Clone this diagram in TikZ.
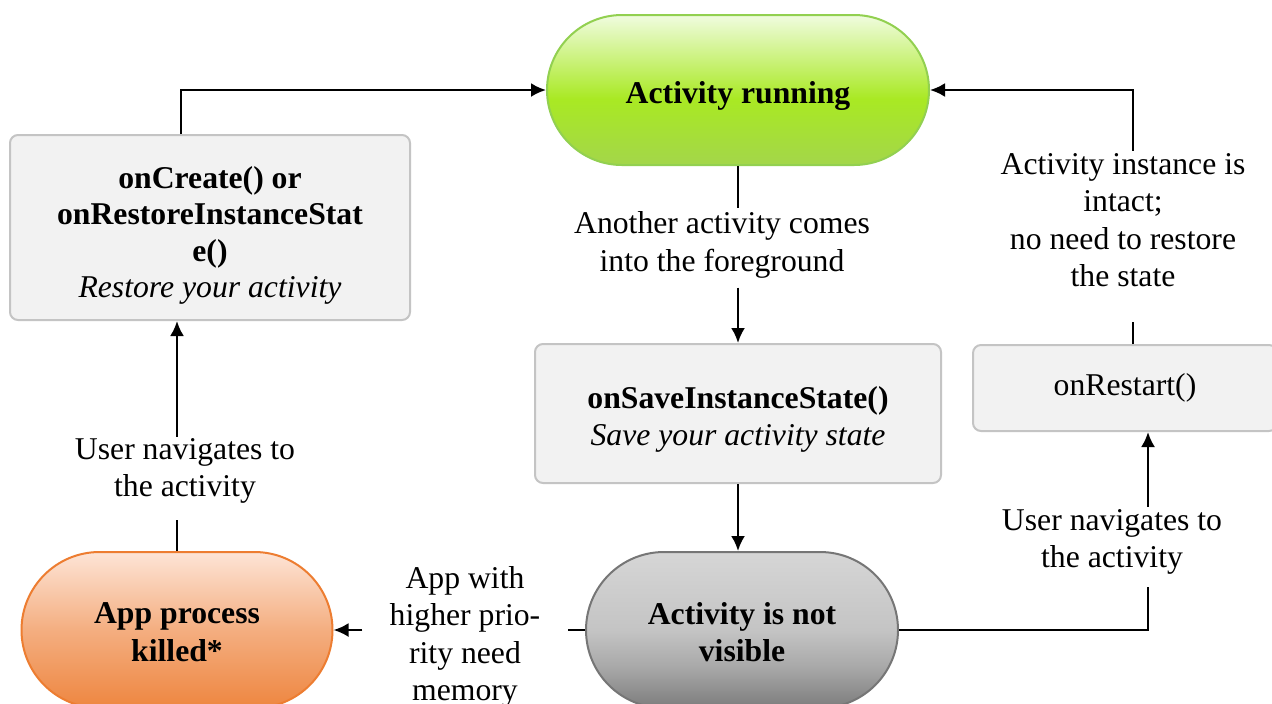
\documentclass[tikz,border=0pt]{standalone}
\usepackage{fontspec}
\setmainfont{Liberation Serif}
\usetikzlibrary{arrows.meta}

\definecolor{runTop}{HTML}{F0FCDF}
\definecolor{runMid}{HTML}{A9E923}
\definecolor{runBot}{HTML}{A3D64A}
\definecolor{runLine}{HTML}{92D050}
\definecolor{killTop}{HTML}{FDE4D6}
\definecolor{killMid}{HTML}{F4AE80}
\definecolor{killBot}{HTML}{EE8640}
\definecolor{killLine}{HTML}{ED7D31}
\definecolor{hidTop}{HTML}{D6D6D6}
\definecolor{hidMid}{HTML}{C4C4C4}
\definecolor{hidLow}{HTML}{A8A8A8}
\definecolor{hidBot}{HTML}{7C7C7C}
\definecolor{hidLine}{HTML}{767676}
\definecolor{boxFill}{HTML}{F2F2F2}
\definecolor{boxLine}{HTML}{C4C4C4}

% vertical shadings (0bp = bottom, 100bp = top; the path spans 25bp..75bp)
\pgfdeclareverticalshading{runshade}{100bp}{color(0bp)=(runBot); color(25bp)=(runBot); color(47bp)=(runMid); color(75bp)=(runTop); color(100bp)=(runTop)}
\pgfdeclareverticalshading{killshade}{100bp}{color(0bp)=(killBot); color(25bp)=(killBot); color(50bp)=(killMid); color(75bp)=(killTop); color(100bp)=(killTop)}
\pgfdeclareverticalshading{hidshade}{100bp}{color(0bp)=(hidBot); color(25bp)=(hidBot); color(38bp)=(hidLow); color(50bp)=(hidMid); color(75bp)=(hidTop); color(100bp)=(hidTop)}

\tikzset{
  txt/.style={font=\fontsize{15.85}{18.75}\selectfont, align=center, inner sep=0pt},
  boldtxt/.style={txt, font=\fontsize{15.85}{18.75}\selectfont\bfseries},
  state/.style={line width=1pt, minimum height=78pt, inner sep=0pt},
  callbox/.style={draw=boxLine, fill=boxFill, line width=1pt, rounded corners=4pt, inner sep=0pt},
  lbl/.style={txt, inner sep=5pt},
  conn/.style={line width=1.2pt},
  arr/.style={conn, -{Latex[length=7.5pt,width=7pt]}}
}

\begin{document}
\begin{tikzpicture}[x=0.5pt,y=-0.5pt]
\clip (0,0) rectangle (1272,703);
\fill[white] (0,0) rectangle (1272,703);

% states
\node[state, shading=runshade, draw=runLine, rounded corners=37.5pt,
      minimum width=191pt, minimum height=75pt] (run) at (738,90) {};
\node[boldtxt] (runT) at ([yshift=-3pt]run.center) {Activity running};
\node[state, shading=killshade, draw=killLine, rounded corners=39pt,
      minimum width=155.5pt] (killed) at (177,630) {};
\node[boldtxt] (killedT) at ([yshift=-1pt]killed.center) {App process\\killed*};
\node[state, shading=hidshade, draw=hidLine, rounded corners=39pt,
      minimum width=156pt] (hidden) at (742,630) {};
\node[boldtxt] (hiddenT) at ([yshift=-1pt]hidden.center) {Activity is not\\visible};

% callbacks
\node[callbox, minimum width=200pt, minimum height=92.5pt] (create) at (210,227.5) {};
\node[txt, font=\fontsize{15.85}{18.2}\selectfont] (createT) at ([yshift=-4pt]create.center)
  {\textbf{onCreate() or}\\\textbf{onRestoreInstanceStat}\\\textbf{e()}\\\textit{Restore your activity}};
\node[callbox, minimum width=203pt, minimum height=69.5pt] (save) at (738,413.5) {};
\node[txt] (saveT) at ([yshift=-3pt]save.center)
  {\textbf{onSaveInstanceState()}\\\textit{Save your activity state}};
\node[callbox, minimum width=152pt, minimum height=43pt] (restart) at (1125,388) {};
\node[txt] (restartT) at (restart.center) {onRestart()};

% transition labels
\node[lbl] (fg) at (722,245) {Another activity comes\\into the foreground};
\node[lbl] (intact) at (1123,220) {Activity instance is\\intact;\\no need to restore\\the state};
\node[lbl] (navR) at (1112,542) {User navigates to\\the activity};
\node[lbl] (navL) at (185,471) {User navigates to\\the activity};
\node[lbl, inner xsep=13.5pt] (mem) at (465,637) {App with\\higher prio-\\rity need\\memory};

% running -> save state -> not visible
\draw[conn, shorten >=-3.5pt] (run.south) -- (run.south |- fg.north);
\draw[arr, shorten <=-0.5pt] (run.south |- fg.south) -- (save.north);
\draw[arr] (save.south) -- (save.south |- hidden.north);

% not visible -> restart -> running
\coordinate (rx) at ([xshift=11.5pt]restart.south);
\draw[conn, shorten >=1pt] (hidden.east) -| (rx |- navR.south);
\draw[arr, shorten <=-4pt] (rx |- navR.north) -- (rx);
\coordinate (ry) at ([xshift=4pt]restart.north);
\draw[conn, shorten >=12.5pt] (ry) -- (ry |- intact.south);
\draw[arr, shorten <=-4pt] (ry |- intact.north) |- (run.east);

% not visible -> killed -> create -> running
\draw[conn] (hidden.west) -- (mem.east |- hidden.west);
\draw[arr] (mem.west |- hidden.west) -- (killed.east);
\draw[conn, shorten >=3pt] (killed.north) -- (killed.north |- navL.south);
\draw[arr, shorten <=-4.5pt] (killed.north |- navL.north) -- (killed.north |- create.south);
\draw[arr] ([xshift=-14.5pt]create.north) |- (run.west);
\end{tikzpicture}
\end{document}
